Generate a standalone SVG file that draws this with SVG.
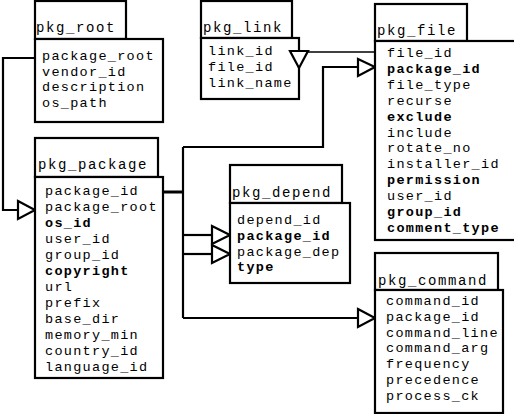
<svg xmlns="http://www.w3.org/2000/svg" width="514" height="414" viewBox="0 0 514 414">
<style>
.box{fill:#fff;stroke:#000;stroke-width:2.2}
.t{font-family:"Courier New","Liberation Mono",Courier,"Nimbus Mono PS",monospace;font-size:14px;letter-spacing:1.6px;fill:#000}
.r{font-family:"Courier New","Liberation Mono",Courier,"Nimbus Mono PS",monospace;font-size:13.5px;letter-spacing:1.3px;fill:#000}
.b{font-weight:bold}
.c{fill:none;stroke:#000;stroke-width:2.2}
.a{fill:#fff;stroke:#000;stroke-width:2.2}
</style>
<rect width="514" height="414" fill="#fff"/>
<g id="connectors">
<polyline class="c" points="35,58 3,58 3,210 18,210"/>
<polygon class="a" points="18,201 35,210 18,219"/>
<line class="c" x1="290" y1="52" x2="375" y2="52" style="stroke-width:1.6"/>
<polyline class="c" points="163,192 183,192" style="stroke-width:3"/>
<line class="c" x1="183" y1="147" x2="183" y2="318"/>
<polyline class="c" points="183,147 323,147 323,67 358,67"/>
<polygon class="a" points="358,59 375,67 358,76"/>
<line class="c" x1="183" y1="235" x2="212" y2="235"/>
<polygon class="a" points="212,226 230,235 212,244"/>
<line class="c" x1="183" y1="254" x2="212" y2="254"/>
<polygon class="a" points="212,245 230,254 212,263"/>
<line class="c" x1="183" y1="318" x2="358" y2="318"/>
<polygon class="a" points="358,309 375,318 358,327"/>
</g>
<g id="pkg_root">
<rect class="box" x="35" y="1" width="91" height="38"/>
<rect class="box" x="35" y="39" width="128" height="83"/>
<text class="t" x="36" y="32">pkg_root</text>
<text class="r" x="42" y="60">package_root</text>
<text class="r" x="42" y="75.7">vendor_id</text>
<text class="r" x="42" y="91.4">description</text>
<text class="r" x="42" y="107">os_path</text>
</g>
<g id="pkg_link">
<rect class="box" x="201" y="1" width="91" height="37"/>
<rect class="box" x="201" y="38" width="98" height="61"/>
<text class="t" x="203" y="32">pkg_link</text>
<text class="r" x="208" y="55">link_id</text>
<text class="r" x="208" y="71">file_id</text>
<text class="r" x="208" y="87">link_name</text>
<polygon class="a" points="290,51 308,51 299,68"/>
</g>
<g id="pkg_file">
<rect class="box" x="375" y="4" width="92" height="37"/>
<rect class="box" x="375" y="41" width="145" height="199"/>
<text class="t" x="377" y="35">pkg_file</text>
<text class="r" x="387" y="57">file_id</text>
<text class="r b" x="387" y="72.9">package_id</text>
<text class="r" x="387" y="88.8">file_type</text>
<text class="r" x="387" y="104.7">recurse</text>
<text class="r b" x="387" y="120.6">exclude</text>
<text class="r" x="387" y="136.5">include</text>
<text class="r" x="387" y="152.4">rotate_no</text>
<text class="r" x="387" y="168.3">installer_id</text>
<text class="r b" x="387" y="184.2">permission</text>
<text class="r" x="387" y="200.1">user_id</text>
<text class="r b" x="387" y="216">group_id</text>
<text class="r b" x="387" y="231.9">comment_type</text>
</g>
<g id="pkg_package">
<rect class="box" x="35" y="138" width="123" height="39"/>
<rect class="box" x="35" y="177" width="128" height="201"/>
<text class="t" x="38" y="169">pkg_package</text>
<text class="r" x="45" y="195">package_id</text>
<text class="r" x="45" y="211">package_root</text>
<text class="r b" x="45" y="227">os_id</text>
<text class="r" x="45" y="243">user_id</text>
<text class="r" x="45" y="259">group_id</text>
<text class="r b" x="45" y="275">copyright</text>
<text class="r" x="45" y="291">url</text>
<text class="r" x="45" y="307">prefix</text>
<text class="r" x="45" y="323">base_dir</text>
<text class="r" x="45" y="339">memory_min</text>
<text class="r" x="45" y="355">country_id</text>
<text class="r" x="45" y="371">language_id</text>
</g>
<g id="pkg_depend">
<rect class="box" x="230" y="165" width="112" height="38"/>
<rect class="box" x="230" y="203" width="120" height="80"/>
<text class="t" x="232" y="197">pkg_depend</text>
<text class="r" x="237" y="224">depend_id</text>
<text class="r b" x="237" y="240">package_id</text>
<text class="r" x="237" y="256">package_dep</text>
<text class="r b" x="237" y="271">type</text>
</g>
<g id="pkg_command">
<rect class="box" x="375" y="253" width="123" height="37"/>
<rect class="box" x="375" y="290" width="128" height="123"/>
<text class="t" x="378" y="285">pkg_command</text>
<text class="r" x="386" y="305">command_id</text>
<text class="r" x="386" y="321">package_id</text>
<text class="r" x="386" y="337">command_line</text>
<text class="r" x="386" y="352">command_arg</text>
<text class="r" x="386" y="368">frequency</text>
<text class="r" x="386" y="384">precedence</text>
<text class="r" x="386" y="400">process_ck</text>
</g>
</svg>
